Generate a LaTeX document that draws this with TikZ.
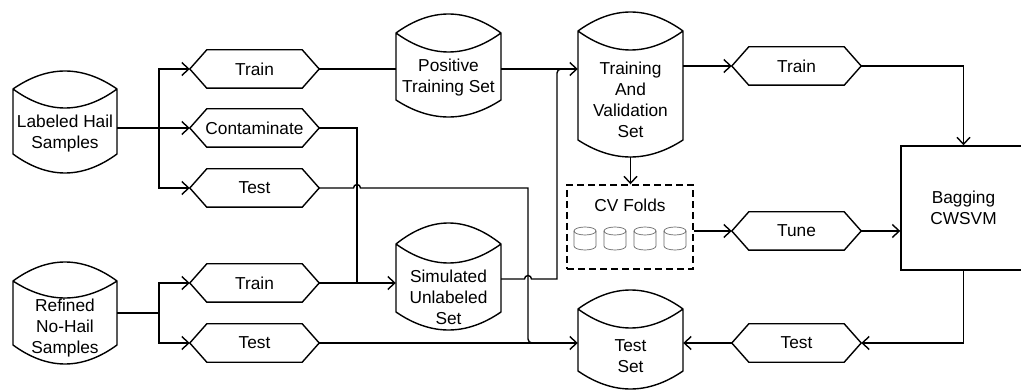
\documentclass[tikz,border=0pt]{standalone}
\usepackage{fontspec}
\setmainfont{Liberation Sans}
\usetikzlibrary{arrows.meta,calc}
\tikzset{
  ln/.style={line width=1.4pt, draw=black},
  arr/.style={ln, -{Straight Barb[length=7pt,width=13pt]}},
  txt/.style={font=\fontsize{17.3}{21}\selectfont, align=center, inner sep=0pt},
  hexlbl/.style={txt, minimum width=129pt, minimum height=38pt},
  sc/.style={line width=0.7pt, draw=black!60},
  dashbox/.style={line width=1.4pt, draw=black, dash pattern=on 7pt off 4pt, inner sep=0pt},
}
\newcommand\cylnode[8]{% name, L, R, T, C, Lb, B, Bb
  \node[inner sep=0pt, minimum width={(#3-#2)*1pt}, minimum height={(#8-#4)*1pt}] (#1) at ({(#2+#3)/2},{(#4+#8)/2}) {};
  \pgfmathsetmacro\cxa{#2+(#3-#2)/3}
  \pgfmathsetmacro\cxb{#3-(#3-#2)/3}
  \pgfmathsetmacro\cyt{(4*#4-#5)/3}
  \pgfmathsetmacro\cyl{(4*#6-#5)/3}
  \pgfmathsetmacro\cyb{(4*#8-#7)/3}
  \draw[ln, line join=round] (#2,#5) .. controls (\cxa,\cyt) and (\cxb,\cyt) .. (#3,#5)
    .. controls (\cxb,\cyl) and (\cxa,\cyl) .. (#2,#5) -- (#2,#7)
    .. controls (\cxa,\cyb) and (\cxb,\cyb) .. (#3,#7) -- (#3,#5);
}
\newcommand\hexnode[4]{% name, cx, cy, text
  \node[hexlbl] (#1) at (#2,#3) {#4};
  \draw[ln, line join=miter] (#1.west) -- ([xshift=17pt]#1.north west) -- ([xshift=-17pt]#1.north east)
    -- (#1.east) -- ([xshift=-17pt]#1.south east) -- ([xshift=17pt]#1.south west) -- cycle;
}
\begin{document}
\begin{tikzpicture}[x=1pt,y=-1pt]
\useasboundingbox (0,0) rectangle (1021,390);
\clip (0,0) rectangle (1021,390);

% cylinders
\cylnode{lab}{13}{117}{71}{89}{108}{154}{173}
\node[txt] (labt) at (65,134) {Labeled Hail\\Samples};
\cylnode{ref}{13}{117}{262}{281}{298}{345}{364}
\node[txt] (reft) at (65,328.5) {Refined\\No-Hail\\Samples};
\cylnode{pos}{396}{501}{14}{33}{52}{100}{117}
\node[txt] (post) at (448.5,78) {Positive\\Training Set};
\cylnode{tvs}{578}{683}{12}{31}{50}{140}{157}
\node[txt] (tvst) at (630.5,99.5) {Training\\And\\Validation\\Set};
\cylnode{sim}{396}{501}{223}{244}{263}{312}{330}
\node[txt] (simt) at (448.5,297) {Simulated\\Unlabeled\\Set};
\cylnode{ts}{578}{683}{290}{309}{328}{371}{389}
\node[txt] (tst) at (630.5,356.5) {Test\\Set};

% hexagons
\hexnode{tr1}{254.5}{69}{Train}
\hexnode{cont}{254.5}{128}{Contaminate}
\hexnode{te1}{254.5}{188}{Test}
\hexnode{tr2}{254.5}{283}{Train}
\hexnode{te2}{254.5}{343}{Test}
\hexnode{tr3}{796.5}{66}{Train}
\hexnode{tune}{796.5}{231}{Tune}
\hexnode{te3}{796.5}{343}{Test}

% CV folds box
\node[dashbox, minimum width=126pt, minimum height=84pt] (cv) at (630,227) {};
\node[txt] (cvt) at (630,205) {CV Folds};
\foreach \cx in {585,615,645,675}{
  \draw[sc] (\cx,231) ellipse[x radius=11pt, y radius=4pt];
  \draw[sc] ({\cx-11},231) -- ({\cx-11},246) arc[start angle=180, end angle=360, x radius=11pt, y radius=4pt] -- ({\cx+11},231);
}

% Bagging box
\node[ln, draw, txt, minimum width=125pt, minimum height=124pt] (bag) at (963.5,208) {Bagging\\CWSVM};

% junction coordinates
\coordinate (b1) at (159,128);
\coordinate (b2) at (159,313);
\coordinate (jc) at (357,283);
\coordinate (jt) at (528,343);
\coordinate (js) at (557,69);
\coordinate (so) at ($(sim.east)+(0,2.5)$);

% connectors: left part
\draw[ln] (cont.west -| lab.east) -- (b1);
\draw[arr] (b1) -- (cont.west);
\draw[arr] (b1) |- (tr1.west);
\draw[arr] (b1) |- (te1.west);
\draw[ln] (b2 -| ref.east) -- (b2);
\draw[arr] (b2) |- (tr2.west);
\draw[arr] (b2) |- (te2.west);

\draw[ln] (tr1.east) -- (tr1.east -| pos.west);
\draw[arr] (tr1.east -| pos.east) -- (tr1.east -| tvs.west);

\draw[ln] (cont.east) -| (jc);
\draw[arr] (tr2.east) -- (tr2.east -| sim.west);

\draw[ln] (te1.east) -- ($(te1.east -| jc)+(-3.5,0)$) arc[start angle=180, end angle=0, radius=3.5pt]
  -- (te1.east -| jt) [rounded corners=4pt] -- (jt) -- ($(jt)+(10,0)$);
\draw[arr] (te2.east) -- (te2.east -| ts.west);

\draw[ln] (so) -- ($(so -| jt)+(-3.5,0)$) arc[start angle=180, end angle=0, radius=3.5pt]
  -- (so -| js) [rounded corners=4pt] -- (js) -- ($(js)+(10,0)$);

% connectors: right part
\draw[arr] (tvs.south) -- (tvs.south |- cv.north);
\draw[arr] (tr3.west -| tvs.east) -- (tr3.west);
\draw[arr] (tr3.east) -| (bag.north);
\draw[arr] (tune.west -| cv.east) -- (tune.west);
\draw[arr] (tune.east) -- (tune.east -| bag.west);
\draw[arr] (bag.south) |- (te3.east);
\draw[arr] (te3.west) -- (te3.west -| ts.east);
\end{tikzpicture}
\end{document}
